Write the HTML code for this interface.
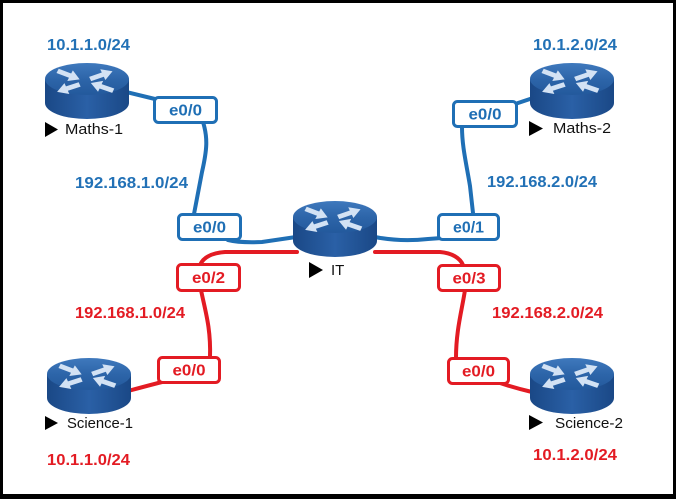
<!DOCTYPE html>
<html><head><meta charset="utf-8">
<style>
html,body{margin:0;padding:0;background:#000;}
svg{display:block;}
text{font-family:"Liberation Sans",Arial,sans-serif;}
</style></head>
<body>
<svg width="676" height="499" viewBox="0 0 676 499" xmlns="http://www.w3.org/2000/svg">
<defs>
  <linearGradient id="top" x1="0" y1="0" x2="0" y2="1">
    <stop offset="0" stop-color="#3f79bd"/>
    <stop offset="0.5" stop-color="#2d65a9"/>
    <stop offset="1" stop-color="#23599c"/>
  </linearGradient>
  <linearGradient id="side" x1="0" y1="0" x2="1" y2="0">
    <stop offset="0" stop-color="#1a4886"/>
    <stop offset="0.5" stop-color="#2a60a6"/>
    <stop offset="1" stop-color="#1a4886"/>
  </linearGradient>
  <g id="ar"><path d="M0,-2.6 L13,-2.6 L13,-6.5 L23,0 L13,6.5 L13,2.6 L0,2.6Z" fill="#d3e2f4"/></g>
  <g id="r">
    <path d="M0,16 L0,40 A42,16 0 0 0 84,40 L84,16 Z" fill="url(#side)"/>
    <ellipse cx="42" cy="16" rx="42" ry="16" fill="url(#top)"/>
    <g transform="translate(42,16) scale(1.05,0.9)">
      <use href="#ar" transform="translate(-28,-9) rotate(24)"/>
      <use href="#ar" transform="translate(3,0) rotate(-22)"/>
      <use href="#ar" transform="translate(-7,6) rotate(159)"/>
      <use href="#ar" transform="translate(25,13) rotate(-158)"/>
    </g>
  </g>
</defs>

<rect x="3" y="3" width="670" height="491" fill="#fff"/>

<!-- blue connectors -->
<g fill="none" stroke="#1f6fb5" stroke-width="4" stroke-linecap="round">
  <path d="M126,92 L155,99"/>
  <path d="M203,122 C208,138 207,150 202,172 L194,214"/>
  <path d="M228,240 Q240,243 262,242 L296,237"/>
  <path d="M375,237 Q400,242 428,239 L442,238"/>
  <path d="M473,213 L470,186 C466,162 462,146 462,127"/>
  <path d="M515,104 L533,98"/>
</g>
<!-- red connectors -->
<g fill="none" stroke="#e31b23" stroke-width="4" stroke-linecap="round">
  <path d="M297,252 L225,252 C211,253 203,258 200,265"/>
  <path d="M201,290 C205,310 211,328 210,357"/>
  <path d="M166,381 Q150,385 128,391"/>
  <path d="M375,252 L440,252 C452,253 460,258 463,265"/>
  <path d="M465,290 C462,310 456,330 456,358"/>
  <path d="M500,383 Q515,388 532,392"/>
</g>

<!-- routers -->
<use href="#r" x="45" y="63"/>
<use href="#r" x="530" y="63"/>
<use href="#r" x="293" y="201"/>
<use href="#r" x="47" y="358"/>
<use href="#r" x="530" y="358"/>

<!-- interface boxes -->
<g fill="#fff" stroke-width="3">
  <rect x="154.5" y="97.5" width="62" height="25" rx="4" stroke="#1f6fb5"/>
  <rect x="178.5" y="214.5" width="62" height="25" rx="4" stroke="#1f6fb5"/>
  <rect x="438.5" y="214.5" width="60" height="25" rx="4" stroke="#1f6fb5"/>
  <rect x="453.5" y="101.5" width="63" height="25" rx="4" stroke="#1f6fb5"/>
  <rect x="177.5" y="264.5" width="62" height="26" rx="4" stroke="#e31b23"/>
  <rect x="438.5" y="265.5" width="61" height="25" rx="4" stroke="#e31b23"/>
  <rect x="158.5" y="357.5" width="61" height="25" rx="4" stroke="#e31b23"/>
  <rect x="448.5" y="358.5" width="60" height="25" rx="4" stroke="#e31b23"/>
</g>
<g font-weight="bold" font-size="16" text-anchor="middle">
  <text x="185.5" y="115.5" fill="#1f6fb5" textLength="33" lengthAdjust="spacingAndGlyphs">e0/0</text>
  <text x="209.5" y="232.5" fill="#1f6fb5" textLength="33" lengthAdjust="spacingAndGlyphs">e0/0</text>
  <text x="468.5" y="232.5" fill="#1f6fb5" textLength="31" lengthAdjust="spacingAndGlyphs">e0/1</text>
  <text x="485" y="119.5" fill="#1f6fb5" textLength="33" lengthAdjust="spacingAndGlyphs">e0/0</text>
  <text x="208.5" y="283" fill="#e31b23" textLength="33" lengthAdjust="spacingAndGlyphs">e0/2</text>
  <text x="469" y="283.5" fill="#e31b23" textLength="33" lengthAdjust="spacingAndGlyphs">e0/3</text>
  <text x="189" y="375.5" fill="#e31b23" textLength="33" lengthAdjust="spacingAndGlyphs">e0/0</text>
  <text x="478.5" y="376.5" fill="#e31b23" textLength="33" lengthAdjust="spacingAndGlyphs">e0/0</text>
</g>

<!-- network labels -->
<g font-weight="bold" font-size="16">
  <text x="47" y="50" fill="#2271b6" textLength="83" lengthAdjust="spacingAndGlyphs">10.1.1.0/24</text>
  <text x="533" y="50" fill="#2271b6" textLength="84" lengthAdjust="spacingAndGlyphs">10.1.2.0/24</text>
  <text x="75" y="188" fill="#2271b6" textLength="113" lengthAdjust="spacingAndGlyphs">192.168.1.0/24</text>
  <text x="487" y="187" fill="#2271b6" textLength="110" lengthAdjust="spacingAndGlyphs">192.168.2.0/24</text>
  <text x="75" y="318" fill="#e31b23" textLength="110" lengthAdjust="spacingAndGlyphs">192.168.1.0/24</text>
  <text x="492" y="318" fill="#e31b23" textLength="111" lengthAdjust="spacingAndGlyphs">192.168.2.0/24</text>
  <text x="47" y="465" fill="#e31b23" textLength="83" lengthAdjust="spacingAndGlyphs">10.1.1.0/24</text>
  <text x="533" y="460" fill="#e31b23" textLength="84" lengthAdjust="spacingAndGlyphs">10.1.2.0/24</text>
</g>

<!-- router names -->
<g fill="#000">
  <polygon points="45,122 58,129.5 45,137"/>
  <polygon points="529,121 543,128.5 529,136"/>
  <polygon points="309,262 323,270 309,278"/>
  <polygon points="45,416 58,423 45,430"/>
  <polygon points="529,415 543,422.5 529,430"/>
</g>
<g font-size="15" fill="#111">
  <text x="65" y="134" textLength="58" lengthAdjust="spacingAndGlyphs">Maths-1</text>
  <text x="553" y="133" textLength="58" lengthAdjust="spacingAndGlyphs">Maths-2</text>
  <text x="331" y="275">IT</text>
  <text x="67" y="428" textLength="66" lengthAdjust="spacingAndGlyphs">Science-1</text>
  <text x="555" y="428" textLength="68" lengthAdjust="spacingAndGlyphs">Science-2</text>
</g>
</svg>
</body></html>
